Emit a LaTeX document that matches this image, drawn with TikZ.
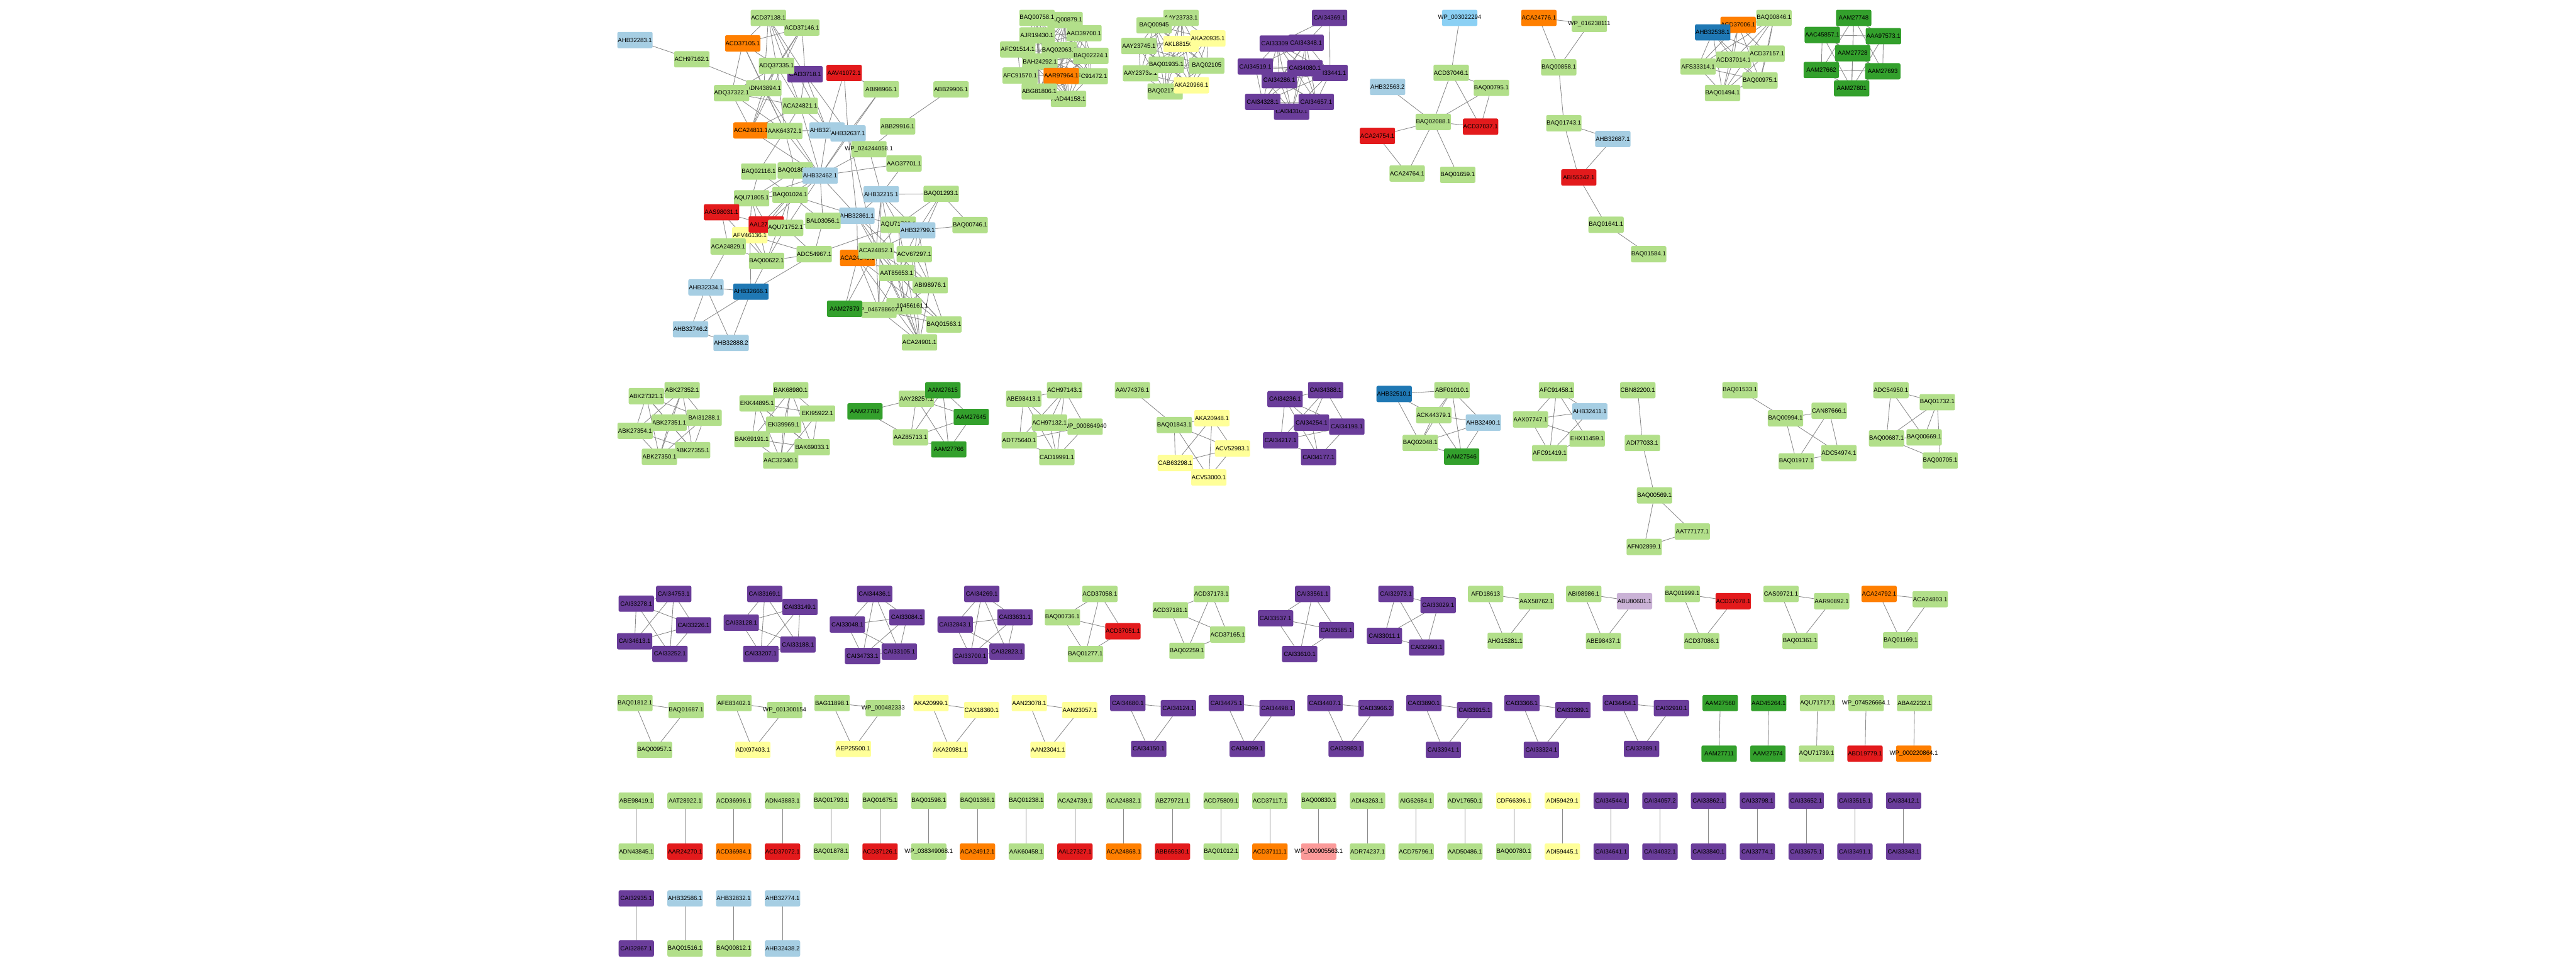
\documentclass[tikz,border=0pt]{standalone}
\usepackage{fontspec}
\newfontfamily\lblfont{Liberation Sans}
\usetikzlibrary{backgrounds}
\definecolor{cLG}{HTML}{B2DF8A}
\definecolor{cDG}{HTML}{33A02C}
\definecolor{cLB}{HTML}{A6CEE3}
\definecolor{cDB}{HTML}{1F78B4}
\definecolor{cRD}{HTML}{E31A1C}
\definecolor{cOR}{HTML}{FF7F00}
\definecolor{cPU}{HTML}{6A3D9A}
\definecolor{cYE}{HTML}{FFFF99}
\definecolor{cPK}{HTML}{FB9A99}
\definecolor{cLP}{HTML}{CAB2D6}
\definecolor{cSB}{HTML}{8BD0F4}
\definecolor{edgegray}{HTML}{8A8A8A}
\tikzset{
  nb/.style={rectangle,rounded corners=0.9pt,minimum width=21.5pt,minimum height=9.9pt,inner sep=0pt,text=black,font=\lblfont\fontsize{3.67}{4.2}\selectfont},
  ed/.style={draw=edgegray,line width=0.33pt}
}
\newcommand\NB[5]{\node[nb,fill=#1] (#2) at (#3,#4) {\makebox[0pt]{#5}};}
\newcommand\Edg[1]{\foreach \a/\b in {#1} {\draw[ed] (\a.center) -- (\b.center);}}
\newcommand\Clq[1]{\foreach \a [count=\i] in {#1} {\foreach \b [count=\j] in {#1} {\ifnum\j>\i\relax \draw[ed] (\a.center) -- (\b.center);\fi}}}
\begin{document}
\begin{tikzpicture}[x=1pt,y=-1pt]
\useasboundingbox (0,0) rectangle (1568,592);
% ===== Cluster A =====
\NB{cLB}{AHB32283}{386.5}{24.4}{AHB32283.1}
\NB{cLG}{ACH97162}{421.1}{36.1}{ACH97162.1}
\NB{cLG}{ACD37138}{467.7}{10.9}{ACD37138.1}
\NB{cLG}{ACD37146}{488.1}{16.8}{ACD37146.1}
\NB{cOR}{ACD37105}{452.1}{26.4}{ACD37105.1}
\NB{cPU}{CAI33718}{490.1}{45.2}{CAI33718.1}
\NB{cLG}{ADQ37335}{472.7}{40.1}{ADQ37335.1}
\NB{cRD}{AAV41072}{513.8}{44.4}{AAV41072.1}
\NB{cLG}{ABI98966}{536.4}{54.3}{ABI98966.1}
\NB{cLG}{ABB29906}{578.9}{54.4}{ABB29906.1}
\NB{cLG}{ADN43894}{464.9}{53.7}{ADN43894.1}
\NB{cLG}{ADQ37322}{445.3}{56.7}{ADQ37322.1}
\NB{cLG}{ACA24821}{487.0}{64.4}{ACA24821.1}
\NB{cLG}{ABB29916}{546.4}{76.9}{ABB29916.1}
\NB{cOR}{ACA24811}{457.1}{79.4}{ACA24811.1}
\NB{cLG}{AAK64372}{477.7}{79.7}{AAK64372.1}
\NB{cLB}{AHB32727}{503.4}{79.4}{AHB32727.1}
\NB{cLB}{AHB32637}{516.2}{81.2}{AHB32637.1}
\NB{cLG}{WPa}{528.9}{90.8}{WP\_024244058.1}
\NB{cLG}{AAO37701}{550.3}{99.5}{AAO37701.1}
\NB{cLG}{BAQ02116}{461.8}{104.4}{BAQ02116.1}
\NB{cLG}{BAQ01861}{484.0}{103.8}{BAQ01861.1}
\NB{cLB}{AHB32462}{499.2}{106.9}{AHB32462.1}
\NB{cLG}{AQU71805}{457.5}{120.7}{AQU71805.1}
\NB{cLG}{BAQ01024}{480.9}{118.6}{BAQ01024.1}
\NB{cLB}{AHB32215}{536.4}{118.2}{AHB32215.1}
\NB{cLG}{BAQ01293}{572.9}{118.0}{BAQ01293.1}
\NB{cRD}{AAS98031}{439.2}{129.2}{AAS98031.1}
\NB{cLB}{AHB32861}{521.6}{131.3}{AHB32861.1}
\NB{cLG}{BAL03056}{500.9}{134.4}{BAL03056.1}
\NB{cYE}{AFV46136}{456.4}{143.1}{AFV46136.1}
\NB{cRD}{AAL27312}{466.4}{136.6}{AAL27312.1}
\NB{cLG}{AQU71752}{478.2}{138.7}{AQU71752.1}
\NB{cLG}{AQU71760}{546.8}{136.8}{AQU71760.1}
\NB{cLB}{AHB32799}{558.6}{140.2}{AHB32799.1}
\NB{cLG}{BAQ00746}{590.5}{137.0}{BAQ00746.1}
\NB{cLG}{ACA24829}{443.2}{150.0}{ACA24829.1}
\NB{cLG}{ADC54967}{495.6}{154.7}{ADC54967.1}
\NB{cLG}{BAQ00622}{466.6}{158.8}{BAQ00622.1}
\NB{cOR}{ACA24840}{522.0}{157.0}{ACA24840.1}
\NB{cLG}{ACA24852}{533.2}{152.6}{ACA24852.1}
\NB{cLG}{ACV67297}{556.5}{154.7}{ACV67297.1}
\NB{cLG}{AAT85653}{545.8}{166.1}{AAT85653.1}
\NB{cLG}{ABI98976}{566.2}{173.6}{ABI98976.1}
\NB{cLB}{AHB32334}{429.7}{174.9}{AHB32334.1}
\NB{cDB}{AHB32666}{457.1}{177.5}{AHB32666.1}
\NB{cLG}{WPc}{550.3}{186.4}{WP\_010456161.1}
\NB{cLG}{WPb}{535.0}{188.6}{WP\_046788607.1}
\NB{cDG}{AAM27879}{514.1}{187.9}{AAM27879}
\NB{cLG}{BAQ01563}{574.6}{197.5}{BAQ01563.1}
\NB{cLG}{ACA24901}{559.7}{208.4}{ACA24901.1}
\NB{cLB}{AHB32746}{420.3}{200.4}{AHB32746.2}
\NB{cLB}{AHB32888}{445.0}{208.7}{AHB32888.2}
% ===== Cluster B =====
\NB{cLG}{BAQ00879}{648.3}{12.2}{BAQ00879.1}
\NB{cLG}{BAQ00758}{631.2}{10.9}{BAQ00758.1}
\NB{cLG}{AAO39700}{659.8}{20.2}{AAO39700.1}
\NB{cLG}{AJR19430}{631.2}{21.6}{AJR19430.1}
\NB{cLG}{BAQ02063}{644.8}{30.6}{BAQ02063.1}
\NB{cLG}{AFC91514}{619.5}{30.1}{AFC91514.1}
\NB{cLG}{BAQ02224}{664.0}{34.0}{BAQ02224.1}
\NB{cLG}{BAH24292}{633.0}{37.4}{BAH24292.1}
\NB{cLG}{AFC91472}{663.6}{46.4}{AFC91472.1}
\NB{cLG}{AFC91570}{620.9}{46.0}{AFC91570.1}
\NB{cOR}{AAR97964}{646.0}{46.2}{AAR97964.1}
\NB{cLG}{AAD44158}{650.4}{60.2}{AAD44158.1}
\NB{cLG}{ABG81806}{632.6}{55.7}{ABG81806.1}
% ===== Cluster C =====
\NB{cLG}{AAY23733}{718.9}{10.9}{AAY23733.1}
\NB{cLG}{BAQ00945}{702.5}{15.4}{BAQ00945}
\NB{cLG}{AAY23745}{693.2}{28.0}{AAY23745.1}
\NB{cYE}{AKL88150}{718.9}{26.8}{AKL88150.1}
\NB{cYE}{AKA20935}{735.2}{23.4}{AKA20935.1}
\NB{cLG}{AAY23739}{694.2}{44.6}{AAY23739.1}
\NB{cLG}{BAQ01935}{709.9}{39.4}{BAQ01935.1}
\NB{cLG}{BAQ02105}{734.5}{40.0}{BAQ02105}
\NB{cLG}{BAQ02170}{709.2}{55.7}{BAQ02170.1}
\NB{cYE}{AKA20966}{725.2}{51.9}{AKA20966.1}
% ===== Cluster D =====
\NB{cPU}{CAI34369}{809.3}{10.9}{CAI34369.1}
\NB{cPU}{CAI33309}{777.5}{26.5}{CAI33309.1}
\NB{cPU}{CAI34348}{795.0}{26.0}{CAI34348.1}
\NB{cPU}{CAI33441}{809.6}{44.4}{CAI33441.1}
\NB{cPU}{CAI34519}{764.1}{40.5}{CAI34519.1}
\NB{cPU}{CAI34080}{794.3}{41.5}{CAI34080.1}
\NB{cPU}{CAI34286}{778.7}{48.8}{CAI34286.1}
\NB{cPU}{CAI34310}{786.2}{68.0}{CAI34310.1}
\NB{cPU}{CAI34328}{768.6}{62.0}{CAI34328.1}
\NB{cPU}{CAI34657}{801.2}{62.0}{CAI34657.1}
% ===== Cluster E, F =====
\NB{cSB}{WPd}{888.5}{10.9}{WP\_003022294}
\NB{cLG}{ACD37046}{883.3}{44.3}{ACD37046.1}
\NB{cLB}{AHB32563}{844.6}{52.9}{AHB32563.2}
\NB{cLG}{BAQ00795}{907.8}{53.5}{BAQ00795.1}
\NB{cLG}{BAQ02088}{872.4}{74.2}{BAQ02088.1}
\NB{cRD}{ACD37037}{901.2}{77.1}{ACD37037.1}
\NB{cRD}{ACA24754}{838.4}{82.7}{ACA24754.1}
\NB{cLG}{ACA24764}{856.5}{105.6}{ACA24764.1}
\NB{cLG}{BAQ01659}{887.3}{106.4}{BAQ01659.1}
\NB{cOR}{ACA24776}{936.7}{10.9}{ACA24776.1}
\NB{cLG}{WPe}{967.4}{14.5}{WP\_016238111}
\NB{cLG}{BAQ00858}{948.8}{41.0}{BAQ00858.1}
\NB{cLG}{BAQ01743}{951.9}{75.0}{BAQ01743.1}
\NB{cLB}{AHB32687}{981.7}{84.6}{AHB32687.1}
\NB{cRD}{ABI55342}{961.0}{108.0}{ABI55342.1}
\NB{cLG}{BAQ01641}{977.6}{136.8}{BAQ01641.1}
\NB{cLG}{BAQ01584}{1003.5}{154.7}{BAQ01584.1}
% ===== Cluster G, H =====
\NB{cLG}{BAQ00846}{1079.8}{10.9}{BAQ00846.1}
\NB{cOR}{ACD37006}{1058.0}{15.1}{ACD37006.1}
\NB{cDB}{AHB32538}{1042.5}{19.7}{AHB32538.1}
\NB{cLG}{ACD37014}{1055.2}{36.3}{ACD37014.1}
\NB{cLG}{ACD37157}{1075.6}{32.7}{ACD37157.1}
\NB{cLG}{AFS33314}{1033.6}{40.5}{AFS33314.1}
\NB{cLG}{BAQ00975}{1071.3}{49.0}{BAQ00975.1}
\NB{cLG}{BAQ01494}{1048.5}{56.6}{BAQ01494.1}
\NB{cDG}{AAM27748}{1128.3}{10.9}{AAM27748}
\NB{cDG}{AAC45857}{1109.2}{21.3}{AAC45857.1}
\NB{cDG}{AAA97573}{1146.4}{22.0}{AAA97573.1}
\NB{cDG}{AAM27728}{1127.7}{32.4}{AAM27728}
\NB{cDG}{AAM27662}{1108.6}{42.6}{AAM27662}
\NB{cDG}{AAM27693}{1146.0}{43.4}{AAM27693}
\NB{cDG}{AAM27801}{1127.1}{53.8}{AAM27801}
% ===== Row 2 =====
\NB{cLG}{ABK27352}{415.2}{237.5}{ABK27352.1}
\NB{cLG}{ABK27321}{393.4}{241.1}{ABK27321.1}
\NB{cLG}{BAI31288}{428.6}{254.3}{BAI31288.1}
\NB{cLG}{ABK27351}{407.3}{257.2}{ABK27351.1}
\NB{cLG}{ABK27354}{386.6}{262.2}{ABK27354.1}
\NB{cLG}{ABK27355}{421.6}{274.0}{ABK27355.1}
\NB{cLG}{ABK27350}{401.4}{278.0}{ABK27350.1}
\NB{cLG}{BAK68980}{481.3}{237.5}{BAK68980.1}
\NB{cLG}{EKK44895}{460.8}{245.5}{EKK44895.1}
\NB{cLG}{EKI95922}{497.6}{251.7}{EKI95922.1}
\NB{cLG}{EKI39969}{477.0}{258.5}{EKI39969.1}
\NB{cLG}{BAK69191}{457.7}{267.3}{BAK69191.1}
\NB{cLG}{BAK69033}{494.4}{272.2}{BAK69033.1}
\NB{cLG}{AAC32340}{475.2}{280.3}{AAC32340.1}
\NB{cLG}{AAY28257}{557.8}{242.7}{AAY28257.1}
\NB{cDG}{AAM27615}{573.9}{237.5}{AAM27615}
\NB{cDG}{AAM27782}{526.5}{250.4}{AAM27782}
\NB{cDG}{AAM27645}{591.2}{253.8}{AAM27645}
\NB{cLG}{AAZ85713}{554.2}{266.2}{AAZ85713.1}
\NB{cDG}{AAM27766}{577.5}{273.5}{AAM27766}
\NB{cLG}{ABE98413}{623.1}{242.7}{ABE98413.1}
\NB{cLG}{ACH97143}{648.0}{237.5}{ACH97143.1}
\NB{cLG}{WPf}{660.5}{259.7}{WP\_000864940}
\NB{cLG}{ACH97132}{638.8}{257.2}{ACH97132.1}
\NB{cLG}{ADT75640}{620.4}{268.0}{ADT75640.1}
\NB{cLG}{CAD19991}{643.3}{278.2}{CAD19991.1}
\NB{cLG}{AAV74376}{689.3}{237.5}{AAV74376.1}
\NB{cLG}{BAQ01843}{714.8}{258.7}{BAQ01843.1}
\NB{cYE}{AKA20948}{737.7}{254.5}{AKA20948.1}
\NB{cYE}{ACV52983}{750.2}{273.0}{ACV52983.1}
\NB{cYE}{CAB63298}{715.4}{281.8}{CAB63298.1}
\NB{cYE}{ACV53000}{735.8}{290.6}{ACV53000.1}
\NB{cPU}{CAI34388}{806.9}{237.5}{CAI34388.1}
\NB{cPU}{CAI34236}{782.2}{242.9}{CAI34236.1}
\NB{cPU}{CAI34254}{798.3}{257.2}{CAI34254.1}
\NB{cPU}{CAI34198}{819.8}{259.7}{CAI34198.1}
\NB{cPU}{CAI34217}{779.5}{268.0}{CAI34217.1}
\NB{cPU}{CAI34177}{802.6}{278.2}{CAI34177.1}
\NB{cDB}{AHB32510}{848.6}{239.8}{AHB32510.1}
\NB{cLG}{ABF01010}{883.8}{237.5}{ABF01010.1}
\NB{cLG}{ACK44379}{872.7}{252.7}{ACK44379.1}
\NB{cLB}{AHB32490}{902.9}{257.2}{AHB32490.1}
\NB{cLG}{BAQ02048}{864.5}{269.6}{BAQ02048.1}
\NB{cDG}{AAM27546}{889.7}{277.9}{AAM27546}
\NB{cLG}{AFC91458}{947.4}{237.5}{AFC91458.1}
\NB{cLB}{AHB32411}{967.7}{250.4}{AHB32411.1}
\NB{cLG}{AAX07747}{931.6}{255.3}{AAX07747.1}
\NB{cLG}{EHX11459}{966.1}{267.0}{EHX11459.1}
\NB{cLG}{AFC91419}{943.3}{275.8}{AFC91419.1}
\NB{cLG}{CBN82200}{996.9}{237.5}{CBN82200.1}
\NB{cLG}{ADI77033}{999.7}{269.6}{ADI77033.1}
\NB{cLG}{BAQ00569}{1007.1}{301.5}{BAQ00569.1}
\NB{cLG}{AAT77177}{1030.1}{323.5}{AAT77177.1}
\NB{cLG}{AFN02899}{1000.8}{332.9}{AFN02899.1}
\NB{cLG}{BAQ01533}{1059.1}{237.5}{BAQ01533.1}
\NB{cLG}{BAQ00994}{1086.8}{254.6}{BAQ00994.1}
\NB{cLG}{CAN87666}{1113.4}{250.0}{CAN87666.1}
\NB{cLG}{ADC54974}{1119.3}{275.8}{ADC54974.1}
\NB{cLG}{BAQ01917}{1093.4}{280.8}{BAQ01917.1}
\NB{cLG}{ADC54950}{1151.0}{237.5}{ADC54950.1}
\NB{cLG}{BAQ01732}{1179.2}{244.8}{BAQ01732.1}
\NB{cLG}{BAQ00687}{1148.3}{266.8}{BAQ00687.1}
\NB{cLG}{BAQ00669}{1171.2}{266.2}{BAQ00669.1}
\NB{cLG}{BAQ00705}{1181.0}{280.3}{BAQ00705.1}
% ===== Row 3 =====
\NB{cPU}{CAI34753}{410.1}{361.5}{CAI34753.1}
\NB{cPU}{CAI33278}{387.3}{367.4}{CAI33278.1}
\NB{cPU}{CAI33226}{422.2}{380.6}{CAI33226.1}
\NB{cPU}{CAI34613}{386.3}{390.3}{CAI34613.1}
\NB{cPU}{CAI33252}{407.8}{398.0}{CAI33252.1}
\NB{cPU}{CAI33169}{465.5}{361.5}{CAI33169.1}
\NB{cPU}{CAI33149}{486.9}{369.4}{CAI33149.1}
\NB{cPU}{CAI33128}{451.2}{379.0}{CAI33128.1}
\NB{cPU}{CAI33188}{485.7}{392.3}{CAI33188.1}
\NB{cPU}{CAI33207}{463.1}{398.0}{CAI33207.1}
\NB{cPU}{CAI34436}{532.4}{361.5}{CAI34436.1}
\NB{cPU}{CAI33084}{552.1}{375.7}{CAI33084.1}
\NB{cPU}{CAI33048}{515.8}{380.1}{CAI33048.1}
\NB{cPU}{CAI33105}{547.4}{396.6}{CAI33105.1}
\NB{cPU}{CAI34733}{525.0}{399.3}{CAI34733.1}
\NB{cPU}{CAI34269}{597.6}{361.5}{CAI34269.1}
\NB{cPU}{CAI33631}{617.8}{375.7}{CAI33631.1}
\NB{cPU}{CAI32843}{581.4}{380.1}{CAI32843.1}
\NB{cPU}{CAI32823}{613.0}{396.6}{CAI32823.1}
\NB{cPU}{CAI33700}{590.6}{399.3}{CAI33700.1}
\NB{cLG}{ACD37058}{669.5}{361.5}{ACD37058.1}
\NB{cLG}{BAQ00736}{646.7}{375.7}{BAQ00736.1}
\NB{cRD}{ACD37051}{683.5}{384.2}{ACD37051.1}
\NB{cLG}{BAQ01277}{660.7}{398.1}{BAQ01277.1}
\NB{cLG}{ACD37173}{737.4}{361.5}{ACD37173.1}
\NB{cLG}{ACD37181}{712.4}{371.4}{ACD37181.1}
\NB{cLG}{ACD37165}{747.3}{386.2}{ACD37165.1}
\NB{cLG}{BAQ02259}{722.5}{396.1}{BAQ02259.1}
\NB{cPU}{CAI33561}{799.0}{361.5}{CAI33561.1}
\NB{cPU}{CAI33537}{776.4}{376.3}{CAI33537.1}
\NB{cPU}{CAI33585}{813.5}{383.6}{CAI33585.1}
\NB{cPU}{CAI33610}{791.1}{398.1}{CAI33610.1}
\NB{cPU}{CAI32973}{849.7}{361.5}{CAI32973.1}
\NB{cPU}{CAI33029}{875.4}{368.3}{CAI33029.1}
\NB{cPU}{CAI33011}{842.7}{387.0}{CAI33011.1}
\NB{cPU}{CAI32993}{868.4}{394.1}{CAI32993.1}
\NB{cLG}{AFD18613}{904.3}{361.5}{AFD18613}
\NB{cLG}{AAX58762}{935.2}{365.9}{AAX58762.1}
\NB{cLG}{AHG15281}{916.2}{390.0}{AHG15281.1}
\NB{cLG}{ABI98986}{964.0}{361.5}{ABI98986.1}
\NB{cLP}{ABU80601}{994.9}{365.9}{ABU80601.1}
\NB{cLG}{ABE98437}{976.0}{390.2}{ABE98437.1}
\NB{cLG}{BAQ01999}{1024.0}{361.5}{BAQ01999.1}
\NB{cRD}{ACD37078}{1055.0}{365.9}{ACD37078.1}
\NB{cLG}{ACD37086}{1035.8}{390.2}{ACD37086.1}
\NB{cLG}{CAS09721}{1084.1}{361.5}{CAS09721.1}
\NB{cLG}{AAR90892}{1114.9}{365.9}{AAR90892.1}
\NB{cLG}{BAQ01361}{1095.7}{390.2}{BAQ01361.1}
\NB{cOR}{ACA24792}{1143.8}{361.5}{ACA24792.1}
\NB{cLG}{ACA24803}{1174.9}{364.7}{ACA24803.1}
\NB{cLG}{BAQ01169}{1156.9}{389.7}{BAQ01169.1}
% ===== Row 4 =====
\NB{cLG}{BAQ01812}{386.5}{427.9}{BAQ01812.1}
\NB{cLG}{BAQ01687}{417.6}{432.2}{BAQ01687.1}
\NB{cLG}{BAQ00957}{398.4}{456.4}{BAQ00957.1}
\NB{cLG}{AFE83402}{446.8}{427.9}{AFE83402.1}
\NB{cLG}{WPg}{477.6}{432.2}{WP\_001300154}
\NB{cYE}{ADX97403}{458.2}{456.4}{ADX97403.1}
\NB{cLG}{BAG11898}{506.5}{427.9}{BAG11898.1}
\NB{cLG}{WPh}{537.6}{431.0}{WP\_000482333}
\NB{cYE}{AEP25500}{519.4}{455.8}{AEP25500.1}
\NB{cYE}{AKA20999}{566.7}{427.9}{AKA20999.1}
\NB{cYE}{CAX18360}{597.5}{432.2}{CAX18360.1}
\NB{cYE}{AKA20981}{578.4}{456.4}{AKA20981.1}
\NB{cYE}{AAN23078}{626.5}{427.9}{AAN23078.1}
\NB{cYE}{AAN23057}{657.2}{432.2}{AAN23057.1}
\NB{cYE}{AAN23041}{637.9}{456.4}{AAN23041.1}
\NB{cPU}{CAI34680}{686.5}{427.9}{CAI34680.1}
\NB{cPU}{CAI34124}{717.3}{431.0}{CAI34124.1}
\NB{cPU}{CAI34150}{699.2}{455.8}{CAI34150.1}
\NB{cPU}{CAI34475}{746.5}{427.9}{CAI34475.1}
\NB{cPU}{CAI34498}{777.4}{431.0}{CAI34498.1}
\NB{cPU}{CAI34099}{759.2}{455.8}{CAI34099.1}
\NB{cPU}{CAI34407}{806.5}{427.9}{CAI34407.1}
\NB{cPU}{CAI33966}{837.6}{431.0}{CAI33966.2}
\NB{cPU}{CAI33983}{819.4}{455.8}{CAI33983.1}
\NB{cPU}{CAI33890}{866.7}{427.9}{CAI33890.1}
\NB{cPU}{CAI33915}{897.6}{432.2}{CAI33915.1}
\NB{cPU}{CAI33941}{878.6}{456.4}{CAI33941.1}
\NB{cPU}{CAI33366}{926.4}{427.9}{CAI33366.1}
\NB{cPU}{CAI33389}{957.4}{432.2}{CAI33389.1}
\NB{cPU}{CAI33324}{938.2}{456.4}{CAI33324.1}
\NB{cPU}{CAI34454}{986.3}{427.9}{CAI34454.1}
\NB{cPU}{CAI32910}{1017.4}{431.0}{CAI32910.1}
\NB{cPU}{CAI32889}{999.2}{455.8}{CAI32889.1}
\NB{cDG}{AAM27560}{1047.1}{427.9}{AAM27560}
\NB{cDG}{AAM27711}{1046.4}{458.7}{AAM27711}
\NB{cDG}{AAD45264}{1076.6}{427.9}{AAD45264.1}
\NB{cDG}{AAM27574}{1076.1}{458.7}{AAM27574}
\NB{cLG}{AQU71717}{1106.3}{427.9}{AQU71717.1}
\NB{cLG}{AQU71739}{1105.7}{458.7}{AQU71739.1}
\NB{cLG}{WPi}{1135.9}{427.9}{WP\_074526664.1}
\NB{cRD}{ABD19779}{1135.2}{458.7}{ABD19779.1}
\NB{cLG}{ABA42232}{1165.4}{427.9}{ABA42232.1}
\NB{cOR}{WPj}{1164.9}{458.7}{WP\_000220864.1}
% ===== Pairs row 5 =====
\NB{cLG}{ABE98419}{387.3}{487.3}{ABE98419.1}  \NB{cLG}{ADN43845}{387.3}{518.3}{ADN43845.1}
\NB{cLG}{AAT28922}{417.0}{487.3}{AAT28922.1}  \NB{cRD}{AAR24270}{417.0}{518.3}{AAR24270.1}
\NB{cLG}{ACD36996}{446.6}{487.3}{ACD36996.1}  \NB{cOR}{ACD36984}{446.6}{518.3}{ACD36984.1}
\NB{cLG}{ADN43883}{476.3}{487.3}{ADN43883.1}  \NB{cRD}{ACD37072}{476.3}{518.3}{ACD37072.1}
\NB{cLG}{BAQ01793}{506.0}{487.3}{BAQ01793.1}  \NB{cLG}{BAQ01878}{506.0}{518.3}{BAQ01878.1}
\NB{cLG}{BAQ01675}{535.7}{487.3}{BAQ01675.1}  \NB{cRD}{ACD37126}{535.7}{518.3}{ACD37126.1}
\NB{cLG}{BAQ01598}{565.3}{487.3}{BAQ01598.1}  \NB{cLG}{WPk}{565.3}{518.3}{WP\_038349068.1}
\NB{cLG}{BAQ01386}{595.0}{487.3}{BAQ01386.1}  \NB{cOR}{ACA24912}{595.0}{518.3}{ACA24912.1}
\NB{cLG}{BAQ01238}{624.7}{487.3}{BAQ01238.1}  \NB{cLG}{AAK60458}{624.7}{518.3}{AAK60458.1}
\NB{cLG}{ACA24739}{654.3}{487.3}{ACA24739.1}  \NB{cRD}{AAL27327}{654.3}{518.3}{AAL27327.1}
\NB{cLG}{ACA24882}{684.0}{487.3}{ACA24882.1}  \NB{cOR}{ACA24868}{684.0}{518.3}{ACA24868.1}
\NB{cLG}{ABZ79721}{713.7}{487.3}{ABZ79721.1}  \NB{cRD}{ABB65530}{713.7}{518.3}{ABB65530.1}
\NB{cLG}{ACD75809}{743.3}{487.3}{ACD75809.1}  \NB{cLG}{BAQ01012}{743.3}{518.3}{BAQ01012.1}
\NB{cLG}{ACD37117}{773.0}{487.3}{ACD37117.1}  \NB{cOR}{ACD37111}{773.0}{518.3}{ACD37111.1}
\NB{cLG}{BAQ00830}{802.7}{487.3}{BAQ00830.1}  \NB{cPK}{WPl}{802.7}{518.3}{WP\_000905563.1}
\NB{cLG}{ADI43263}{832.4}{487.3}{ADI43263.1}  \NB{cLG}{ADR74237}{832.4}{518.3}{ADR74237.1}
\NB{cLG}{AIG62684}{862.0}{487.3}{AIG62684.1}  \NB{cLG}{ACD75796}{862.0}{518.3}{ACD75796.1}
\NB{cLG}{ADV17650}{891.7}{487.3}{ADV17650.1}  \NB{cLG}{AAD50486}{891.7}{518.3}{AAD50486.1}
\NB{cYE}{CDF66396}{921.4}{487.3}{CDF66396.1}  \NB{cLG}{BAQ00780}{921.4}{518.3}{BAQ00780.1}
\NB{cYE}{ADI59429}{951.0}{487.3}{ADI59429.1}  \NB{cYE}{ADI59445}{951.0}{518.3}{ADI59445.1}
\NB{cPU}{CAI34544}{980.7}{487.3}{CAI34544.1}  \NB{cPU}{CAI34641}{980.7}{518.3}{CAI34641.1}
\NB{cPU}{CAI34057}{1010.4}{487.3}{CAI34057.2} \NB{cPU}{CAI34032}{1010.4}{518.3}{CAI34032.1}
\NB{cPU}{CAI33862}{1040.0}{487.3}{CAI33862.1} \NB{cPU}{CAI33840}{1040.0}{518.3}{CAI33840.1}
\NB{cPU}{CAI33798}{1069.7}{487.3}{CAI33798.1} \NB{cPU}{CAI33774}{1069.7}{518.3}{CAI33774.1}
\NB{cPU}{CAI33652}{1099.4}{487.3}{CAI33652.1} \NB{cPU}{CAI33675}{1099.4}{518.3}{CAI33675.1}
\NB{cPU}{CAI33515}{1129.1}{487.3}{CAI33515.1} \NB{cPU}{CAI33491}{1129.1}{518.3}{CAI33491.1}
\NB{cPU}{CAI33412}{1158.7}{487.3}{CAI33412.1} \NB{cPU}{CAI33343}{1158.7}{518.3}{CAI33343.1}
% ===== Pairs row 6 =====
\NB{cPU}{CAI32935}{387.3}{546.8}{CAI32935.1}  \NB{cPU}{CAI32867}{387.3}{577.3}{CAI32867.1}
\NB{cLB}{AHB32586}{417.0}{546.8}{AHB32586.1}  \NB{cLG}{BAQ01516}{417.0}{577.3}{BAQ01516.1}
\NB{cLB}{AHB32832}{446.6}{546.8}{AHB32832.1}  \NB{cLG}{BAQ00812}{446.6}{577.3}{BAQ00812.1}
\NB{cLB}{AHB32774}{476.3}{546.8}{AHB32774.1}  \NB{cLB}{AHB32438}{476.3}{577.3}{AHB32438.2}
% ===== Edges =====
\begin{pgfonlayer}{background}
\fill[white] (0,0) rectangle (1568,592);
\Edg{AHB32283/ACH97162,ACH97162/ADN43894,
ACD37138/ACD37105,ACD37138/ADQ37335,ACD37138/CAI33718,ACD37138/ADN43894,ACD37138/ACA24821,ACD37138/AHB32727,
ACD37146/ACD37105,ACD37146/ADQ37335,ACD37146/CAI33718,ACD37146/ADN43894,ACD37146/ACA24811,
ACD37105/ADQ37322,ACD37105/ADQ37335,ACD37105/ADN43894,ACD37105/AAK64372,
ADQ37335/ADN43894,ADQ37335/ADQ37322,ADQ37335/ACA24811,ADQ37335/AAK64372,ADQ37335/ACA24821,
CAI33718/ACA24821,CAI33718/AHB32637,CAI33718/AHB32727,
AAV41072/AHB32727,AAV41072/AHB32637,AAV41072/ABI98966,
ABI98966/AHB32637,ABI98966/AHB32462,
ABB29906/ABB29916,ABB29916/WPa,
ADQ37322/ACA24821,ADQ37322/ACA24811,ADQ37322/AAK64372,
ADN43894/ACA24811,ADN43894/AAK64372,ADN43894/AHB32462,
ACA24821/ACA24811,ACA24821/AAK64372,ACA24821/AHB32727,ACA24821/AHB32462,
AAK64372/AHB32727,AAK64372/BAQ02116,AAK64372/BAQ01861,AAK64372/AHB32462,
ACA24811/AHB32462,AHB32727/AHB32462,AHB32637/AHB32462,AHB32637/AHB32861,AHB32637/ACA24852,
WPa/AHB32462,WPa/AHB32215,AAO37701/AHB32462,AAO37701/AHB32215,
BAQ02116/AQU71805,BAQ02116/BAQ01024,BAQ01861/BAQ01024,BAQ01861/AQU71805,
AHB32462/BAQ01024,AHB32462/AQU71805,AHB32462/BAL03056,AHB32462/AHB32861,AHB32462/AQU71752,AHB32462/AAL27312,
BAQ01024/AQU71805,BAQ01024/AHB32861,BAQ01024/BAL03056,BAQ01024/AQU71752,BAQ01024/AAL27312,BAQ01024/BAQ00622,BAQ01024/AFV46136,
AQU71805/AAS98031,AQU71805/AFV46136,AQU71805/AAL27312,AQU71805/BAQ00622,
AAS98031/AAL27312,AAS98031/ACA24829,AAS98031/BAQ00622,
AHB32215/BAQ01293,AHB32215/AHB32861,AHB32215/AQU71760,AHB32215/AHB32799,AHB32215/ACA24852,AHB32215/AAT85653,AHB32215/WPb,
BAQ01293/AHB32799,BAQ01293/AQU71760,BAQ01293/BAQ00746,BAQ01293/ACV67297,
AHB32799/BAQ00746,
BAL03056/ADC54967,BAL03056/AQU71752,BAL03056/AHB32861,
AHB32861/ACA24840,AHB32861/AQU71760,AHB32861/ACA24852,AHB32861/AAT85653,AHB32861/ABI98976,
ADC54967/AQU71760,ADC54967/AHB32666,ADC54967/BAQ00622,
AQU71752/ADC54967,AQU71752/BAQ00622,AQU71752/AAL27312,
AFV46136/ADC54967,AFV46136/BAQ00622,AFV46136/AHB32666,AFV46136/ACA24829,
ACA24829/BAQ00622,ACA24829/AHB32334,BAQ00622/AHB32666,
AHB32334/AHB32666,AHB32334/AHB32746,AHB32334/AHB32888,AHB32666/AHB32746,AHB32666/AHB32888,AHB32746/AHB32888,
ACA24840/AAM27879,ACA24852/AAM27879,ACA24840/WPb,ACA24840/AAT85653,ACA24840/BAQ01563,ACA24840/ACA24901,
AHB32799/ACA24852,AHB32799/ACV67297,AHB32799/ABI98976,AHB32799/AAT85653,AQU71760/ACA24852,AQU71760/ACA24901,AQU71760/WPc,
ACA24852/AAT85653,ACA24852/ACV67297,ACA24852/ABI98976,ACA24852/WPb,ACA24852/WPc,ACA24852/BAQ01563,ACA24852/ACA24901,
ACV67297/AAT85653,ACV67297/ABI98976,ACV67297/ACA24901,ACV67297/WPc,
AAT85653/ABI98976,AAT85653/WPc,AAT85653/WPb,AAT85653/ACA24901,AAT85653/BAQ01563,
ABI98976/BAQ01563,ABI98976/ACA24901,ABI98976/WPc,
WPb/ACA24901,WPb/BAQ01563,WPc/ACA24901,WPc/BAQ01563}
\Clq{BAQ00879,BAQ00758,AAO39700,AJR19430,BAQ02063,AFC91514,BAQ02224,BAH24292,AFC91472,AFC91570,AAR97964,AAD44158,ABG81806}
\Clq{AAY23733,BAQ00945,AAY23745,AKL88150,AKA20935,AAY23739,BAQ01935,BAQ02105,BAQ02170,AKA20966}
\Clq{CAI33309,CAI34348,CAI33441,CAI34519,CAI34080,CAI34286,CAI34310,CAI34328,CAI34657}
\Edg{CAI34369/CAI34348,CAI34369/CAI33309,CAI34369/CAI33441}
\Edg{WPd/ACD37046,ACD37046/BAQ00795,ACD37046/BAQ02088,ACD37046/ACD37037,AHB32563/BAQ02088,BAQ00795/BAQ02088,BAQ00795/ACD37037,BAQ02088/ACD37037,BAQ02088/ACA24754,BAQ02088/ACA24764,BAQ02088/BAQ01659,ACA24754/ACA24764}
\Edg{ACA24776/WPe,ACA24776/BAQ00858,WPe/BAQ00858,BAQ00858/BAQ01743,BAQ01743/AHB32687,BAQ01743/ABI55342,AHB32687/ABI55342,ABI55342/BAQ01641,BAQ01641/BAQ01584}
\Clq{BAQ00846,ACD37006,AHB32538,ACD37014,ACD37157,AFS33314,BAQ00975,BAQ01494}
\Clq{AAM27748,AAC45857,AAA97573,AAM27728,AAM27662,AAM27693,AAM27801}
\Clq{ABK27352,ABK27321,BAI31288,ABK27351,ABK27354,ABK27355,ABK27350}
\Clq{BAK68980,EKK44895,EKI95922,EKI39969,BAK69191,BAK69033,AAC32340}
\Edg{AAM27782/AAY28257,AAM27782/AAZ85713,AAY28257/AAM27615,AAY28257/AAM27645,AAY28257/AAZ85713,AAY28257/AAM27766,AAM27615/AAM27645,AAM27615/AAM27766,AAM27615/AAZ85713,AAM27645/AAZ85713,AAM27645/AAM27766,AAZ85713/AAM27766}
\Edg{ABE98413/ACH97143,ABE98413/ACH97132,ABE98413/ADT75640,ABE98413/CAD19991,ACH97143/ACH97132,ACH97143/WPf,ACH97143/ADT75640,ACH97143/CAD19991,ACH97132/ADT75640,ACH97132/CAD19991,ACH97132/WPf,ADT75640/WPf,ADT75640/CAD19991,WPf/CAD19991}
\Edg{AAV74376/BAQ01843,BAQ01843/AKA20948,BAQ01843/ACV52983,BAQ01843/CAB63298,BAQ01843/ACV53000,AKA20948/CAB63298,AKA20948/ACV53000,AKA20948/ACV52983,ACV52983/CAB63298,ACV52983/ACV53000}
\Edg{CAI34236/CAI34388,CAI34236/CAI34254,CAI34236/CAI34198,CAI34236/CAI34217,CAI34388/CAI34254,CAI34388/CAI34198,CAI34388/CAI34217,CAI34254/CAI34217,CAI34254/CAI34177,CAI34198/CAI34177,CAI34198/CAI34217,CAI34217/CAI34177,CAI34236/CAI34177}
\Edg{AHB32510/ABF01010,AHB32510/ACK44379,AHB32510/BAQ02048,ABF01010/ACK44379,ABF01010/AHB32490,ABF01010/AAM27546,ABF01010/BAQ02048,ACK44379/AHB32490,ACK44379/BAQ02048,ACK44379/AAM27546,AHB32490/BAQ02048,AHB32490/AAM27546,BAQ02048/AAM27546}
\Edg{AFC91458/AAX07747,AFC91458/AFC91419,AFC91458/AHB32411,AFC91458/EHX11459,AAX07747/AHB32411,AAX07747/EHX11459,AAX07747/AFC91419,AHB32411/AFC91419,EHX11459/AFC91419}
\Edg{CBN82200/ADI77033,ADI77033/BAQ00569,BAQ00569/AAT77177,BAQ00569/AFN02899,AAT77177/AFN02899}
\Edg{BAQ01533/BAQ00994,BAQ00994/CAN87666,BAQ00994/ADC54974,BAQ00994/BAQ01917,CAN87666/BAQ01917,CAN87666/ADC54974,BAQ01917/ADC54974}
\Edg{ADC54950/BAQ01732,ADC54950/BAQ00687,ADC54950/BAQ00669,BAQ01732/BAQ00687,BAQ01732/BAQ00669,BAQ01732/BAQ00705,BAQ00687/BAQ00669,BAQ00687/BAQ00705}
\Clq{CAI34753,CAI33278,CAI33226,CAI34613,CAI33252}
\Clq{CAI33169,CAI33149,CAI33128,CAI33188,CAI33207}
\Clq{CAI34436,CAI33084,CAI33048,CAI33105,CAI34733}
\Clq{CAI34269,CAI33631,CAI32843,CAI32823,CAI33700}
\Clq{ACD37058,BAQ00736,ACD37051,BAQ01277}
\Clq{ACD37173,ACD37181,ACD37165,BAQ02259}
\Clq{CAI33561,CAI33537,CAI33585,CAI33610}
\Clq{CAI32973,CAI33029,CAI33011,CAI32993}
\Clq{AFD18613,AAX58762,AHG15281}
\Clq{ABI98986,ABU80601,ABE98437}
\Clq{BAQ01999,ACD37078,ACD37086}
\Clq{CAS09721,AAR90892,BAQ01361}
\Clq{ACA24792,ACA24803,BAQ01169}
\Clq{BAQ01812,BAQ01687,BAQ00957}
\Clq{AFE83402,WPg,ADX97403}
\Clq{BAG11898,WPh,AEP25500}
\Clq{AKA20999,CAX18360,AKA20981}
\Clq{AAN23078,AAN23057,AAN23041}
\Clq{CAI34680,CAI34124,CAI34150}
\Clq{CAI34475,CAI34498,CAI34099}
\Clq{CAI34407,CAI33966,CAI33983}
\Clq{CAI33890,CAI33915,CAI33941}
\Clq{CAI33366,CAI33389,CAI33324}
\Clq{CAI34454,CAI32910,CAI32889}
\Edg{AAM27560/AAM27711,AAD45264/AAM27574,AQU71717/AQU71739,WPi/ABD19779,ABA42232/WPj}
\Edg{ABE98419/ADN43845,AAT28922/AAR24270,ACD36996/ACD36984,ADN43883/ACD37072,BAQ01793/BAQ01878,BAQ01675/ACD37126,BAQ01598/WPk,BAQ01386/ACA24912,BAQ01238/AAK60458,ACA24739/AAL27327,ACA24882/ACA24868,ABZ79721/ABB65530,ACD75809/BAQ01012,ACD37117/ACD37111,BAQ00830/WPl,ADI43263/ADR74237,AIG62684/ACD75796,ADV17650/AAD50486,CDF66396/BAQ00780,ADI59429/ADI59445,CAI34544/CAI34641,CAI34057/CAI34032,CAI33862/CAI33840,CAI33798/CAI33774,CAI33652/CAI33675,CAI33515/CAI33491,CAI33412/CAI33343}
\Edg{CAI32935/CAI32867,AHB32586/BAQ01516,AHB32832/BAQ00812,AHB32774/AHB32438}
\end{pgfonlayer}
\end{tikzpicture}
\end{document}
